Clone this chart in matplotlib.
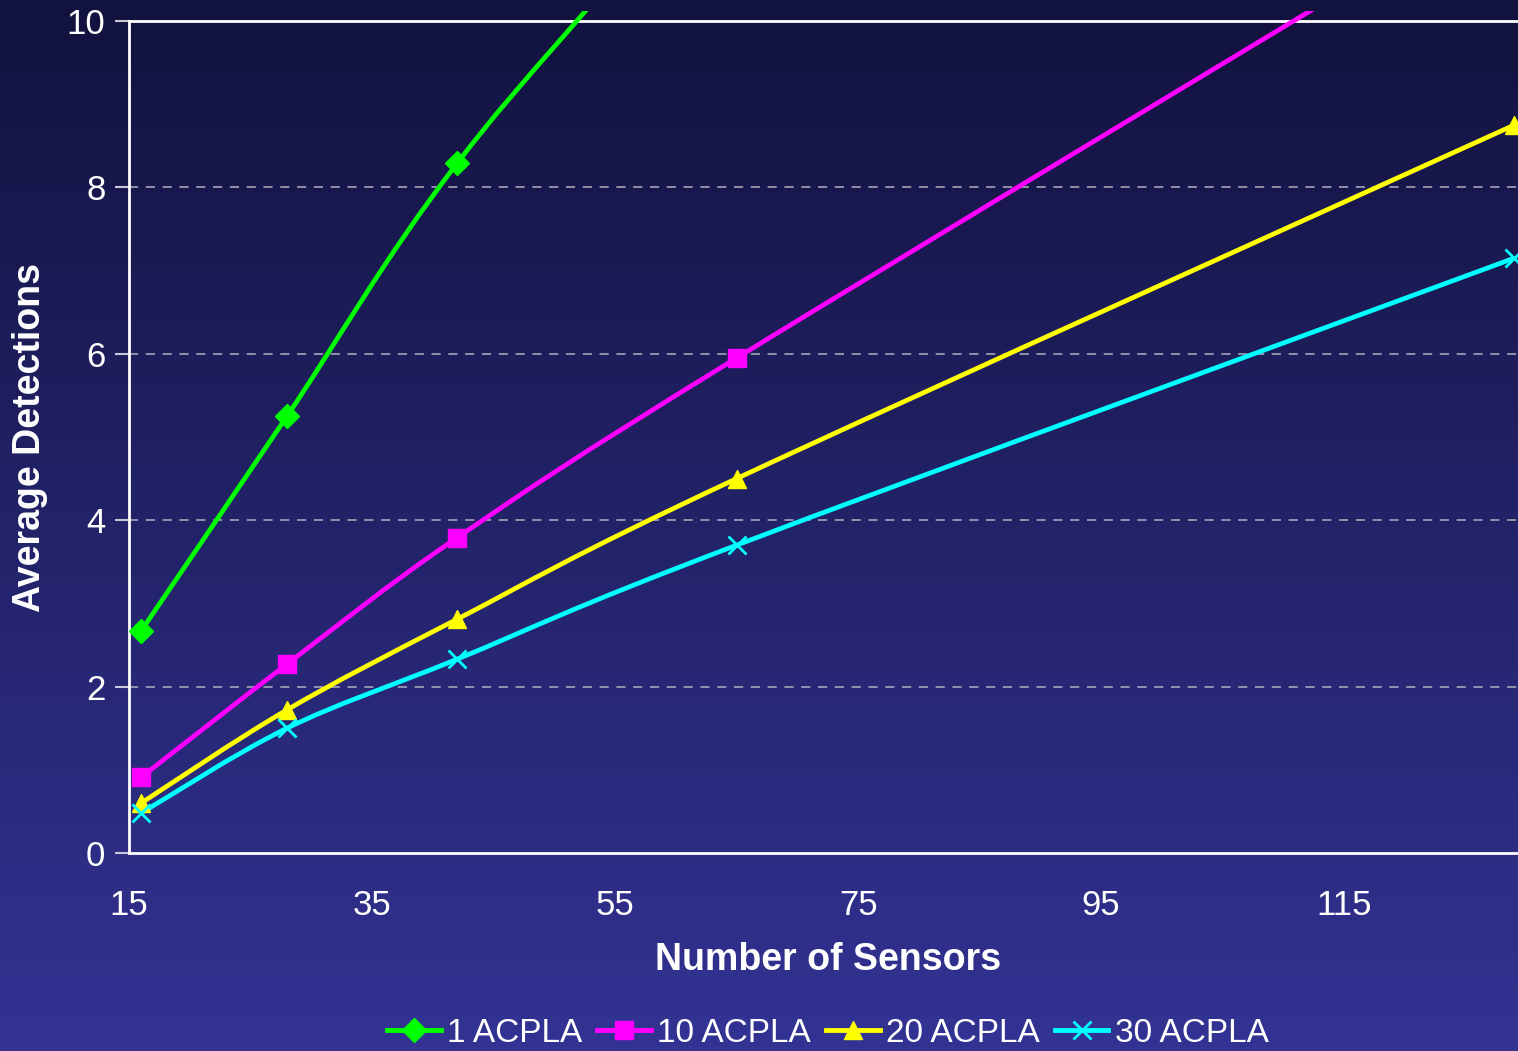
import numpy as np
import matplotlib
matplotlib.use("Agg")
import matplotlib.pyplot as plt
from matplotlib.path import Path
from matplotlib.patches import PathPatch, Rectangle
from matplotlib.lines import Line2D

plt.rcParams['font.family'] = ['Liberation Sans', 'DejaVu Sans']

sensors = [16, 28, 42, 65, 129]
acpla_1 = [2.67, 5.25, 8.29, 12.3, 24.0]
acpla_10 = [0.91, 2.27, 3.79, 5.95, 11.6]
acpla_20 = [0.60, 1.72, 2.81, 4.50, 8.75]
acpla_30 = [0.48, 1.50, 2.33, 3.70, 7.15]
series_labels = ["1 ACPLA", "10 ACPLA", "20 ACPLA", "30 ACPLA"]
colors = ["#00ff00", "#ff00ff", "#ffff00", "#00ffff"]
markers = ["D", "s", "^", "x"]
msizes = [12, 13, 13, 13]
x_ticks = [15, 35, 55, 75, 95, 115]
y_ticks = [0, 2, 4, 6, 8, 10]

W, H = 1518, 1051
fig = plt.figure(figsize=(W / 100, H / 100), dpi=100)

# gradient background
bg = fig.add_axes([0, 0, 1, 1], zorder=-10)
top = np.array([0x12, 0x12, 0x3e]) / 255
bot = np.array([0x33, 0x33, 0x94]) / 255
t = np.linspace(0, 1, 256)[:, None]
grad = top[None, :] * (1 - t) + bot[None, :] * t
bg.imshow(grad[:, None, :], aspect='auto', extent=[0, 1, 0, 1])
bg.set_axis_off()

ax = fig.add_axes([129 / W, 1 - 853 / H, (W - 129) / W, (853 - 21) / H])
ax.set_facecolor('none')
ax.set_xlim(15, 129.3)
ax.set_ylim(0, 10)

clip = Rectangle((0, 0), 1, 1.012, transform=ax.transAxes, visible=False)
ax.add_patch(clip)


def smooth_path(xs, ys):
    pts = np.column_stack([xs, ys]).astype(float)
    n = len(pts)
    verts = [pts[0]]
    codes = [Path.MOVETO]
    for i in range(n - 1):
        p0 = pts[i - 1] if i > 0 else pts[i]
        p1 = pts[i]
        p2 = pts[i + 1]
        p3 = pts[i + 2] if i + 2 < n else pts[i + 1]
        c1 = p1 + (p2 - p0) / 6.0
        c2 = p2 - (p3 - p1) / 6.0
        verts += [c1, c2, p2]
        codes += [Path.CURVE4] * 3
    return Path(verts, codes)


for ys, c, m, ms in zip([acpla_1, acpla_10, acpla_20, acpla_30], colors, markers, msizes):
    patch = PathPatch(smooth_path(sensors, ys), facecolor='none', edgecolor=c,
                      lw=3.4, zorder=3)
    ax.add_patch(patch)
    patch.set_clip_path(clip)
    mk = ax.plot(sensors, ys, linestyle='none', marker=m, color=c, ms=ms,
                 mew=2 if m == 'x' else 1, zorder=4)[0]
    mk.set_clip_path(clip)

for yv in y_ticks[1:-1]:
    ax.axhline(yv, color='#b0b0c0', lw=1.1, ls=(0, (6, 5)), zorder=1)

for s in ['left', 'bottom', 'top']:
    ax.spines[s].set_color('white')
    ax.spines[s].set_linewidth(2)
ax.spines['right'].set_visible(False)

ax.set_xticks(x_ticks)
ax.set_yticks(y_ticks)
ax.tick_params(axis='x', length=0, pad=26, labelsize=25, colors='white')
ax.tick_params(axis='y', length=10, width=1.5, color='#c8c8d8', pad=7,
               labelsize=25, labelcolor='white')

fig.text(828 / W, 1 - 960 / H, 'Number of Sensors', fontsize=27, fontweight='bold',
         color='white', ha='center', va='center')
fig.text(30 / W, 1 - 437 / H, 'Average Detections', fontsize=27, fontweight='bold',
         color='white', ha='center', va='center', rotation=90)

handles = [Line2D([0], [0], color=c, lw=3.5, marker=m, ms=ms, mew=2 if m == 'x' else 1)
           for c, m, ms in zip(colors, markers, msizes)]
leg = fig.legend(handles, series_labels, loc='center', bbox_to_anchor=(828 / W, 1 - 1033 / H),
                 ncol=4, frameon=False, fontsize=24, handlelength=1.6, handletextpad=0.2,
                 columnspacing=0.45, labelcolor='white', borderpad=0)

fig.savefig('out.png', dpi=100)
